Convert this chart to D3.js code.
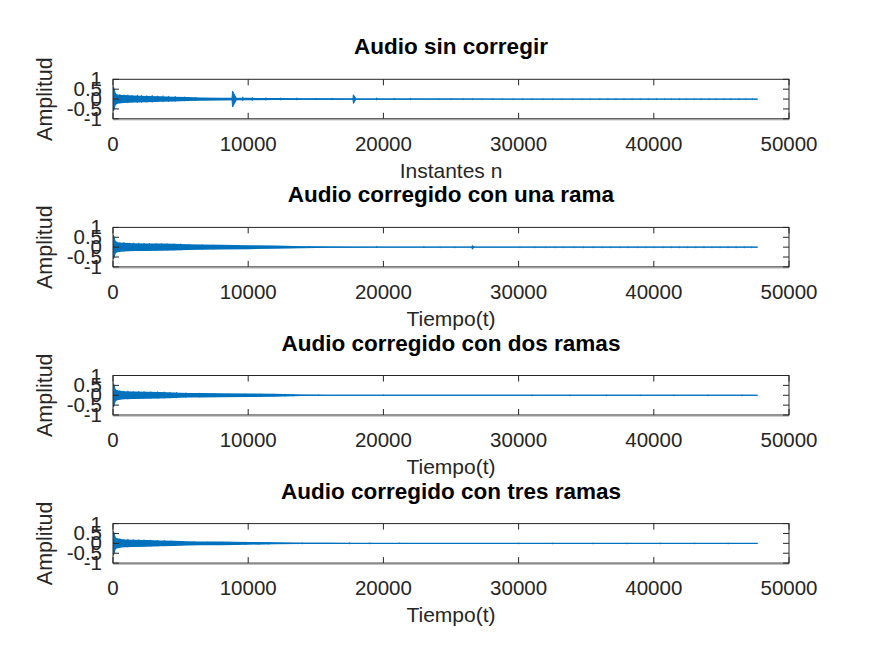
<!DOCTYPE html>
<html><head><meta charset="utf-8">
<script src="https://cdn.jsdelivr.net/npm/d3@7"></script>
<style>body{margin:0;background:#fff}svg{display:block}text{font-family:"Liberation Sans",Arial,Helvetica,sans-serif}</style>
</head><body>
<script>
// ---- data ----
const titles = ["Audio sin corregir","Audio corregido con una rama","Audio corregido con dos ramas","Audio corregido con tres ramas"];
const xLabels = ["Instantes n","Tiempo(t)","Tiempo(t)","Tiempo(t)"];
const yLabel = "Amplitud";
const xTicks = [0,10000,20000,30000,40000,50000];
const yTicks = [-1,-0.5,0,0.5,1];
const nSamples = 47680;

// envelope sample positions and half-amplitudes per subplot
const envX    = [0,150,400,800,1500,2500,3500,4500,5500,6500,8000,10000,12000,14000,16000,18000,20000,25000,30000,40000,47680];
const envSin  = [0.2,0.3,0.22,0.2,0.18,0.16,0.14,0.12,0.1,0.08,0.07,0.06,0.05,0.04,0.035,0.03,0.03,0.025,0.02,0.02,0.02];
const envUna  = [0.2,0.32,0.24,0.22,0.2,0.19,0.18,0.17,0.15,0.13,0.12,0.1,0.08,0.05,0.03,0.025,0.02,0.02,0.02,0.02,0.02];
const envDos  = [0.2,0.3,0.24,0.2,0.19,0.18,0.16,0.14,0.12,0.11,0.1,0.09,0.07,0.04,0.025,0.02,0.02,0.02,0.02,0.02,0.02];
const envTres = [0.2,0.3,0.24,0.2,0.18,0.17,0.15,0.13,0.11,0.1,0.09,0.07,0.05,0.03,0.025,0.02,0.02,0.02,0.02,0.02,0.02];

// spikes: [start sample, end sample, top, bottom]
const spikesSin  = [[0,250,0.62,-0.6],[8800,9100,0.4,-0.4],[17750,17950,0.22,-0.22]];
const spikesUna  = [[0,250,0.6,-0.6],[26550,26700,0.08,-0.1]];
const spikesDos  = [[0,250,0.6,-0.6]];
const spikesTres = [[0,250,0.6,-0.6]];

// bursts sticking out of the band: [sample, amplitude]
const burstsSin  = [[500,0.24],[800,0.22],[1100,0.23],[1400,0.2],[1800,0.22],[2100,0.2],[2500,0.19],[2900,0.2],[3300,0.17],[3700,0.18],[4100,0.16],[4600,0.15],[5300,0.12],[6100,0.1],[9600,0.12],[10300,0.1],[11300,0.08],[12400,0.07],[13600,0.07],[15000,0.06],[16200,0.06],[19500,0.07],[20800,0.06],[22000,0.06]];
const burstsUna  = [[500,0.24],[800,0.25],[1200,0.22],[1500,0.23],[1900,0.22],[2300,0.21],[2700,0.2],[3200,0.2],[3600,0.2],[4000,0.19],[4500,0.18],[5000,0.18],[5600,0.15],[6600,0.14],[7400,0.12],[8500,0.1],[10000,0.08],[11500,0.07],[13000,0.06],[14500,0.05],[19500,0.05],[23000,0.05]];
const burstsDos  = [[500,0.24],[800,0.22],[1100,0.23],[1500,0.2],[1900,0.21],[2300,0.2],[2800,0.19],[3300,0.19],[3800,0.18],[4200,0.17],[4700,0.16],[5400,0.14],[6400,0.12],[7500,0.1],[8500,0.09],[9800,0.08],[10900,0.08],[11900,0.07],[12700,0.07],[13300,0.06],[15200,0.04],[20000,0.04]];
const burstsTres = [[500,0.24],[800,0.22],[1100,0.23],[1500,0.2],[1900,0.2],[2300,0.19],[2800,0.18],[3300,0.17],[3800,0.16],[4300,0.14],[5000,0.12],[6000,0.1],[7000,0.09],[8500,0.08],[9800,0.08],[10800,0.07],[11500,0.06],[14000,0.05],[17500,0.05],[19000,0.05],[21200,0.04]];

// faint tail bursts (light)
const tailSin  = [24100,25000,25900,26600,27300,28100,28800,29600,30300,31000,31800,32500,33200,34000,34700,35300,36000,36600,37200,37800,38400,39000,39600,40200,40800,41300,41900,42400,43000,43500,44100,44600,45200,45700,46300,46800,47300];
const tailUna  = [24200,25300,30100,31200,32000,32700,33300,34100,34800,35500,36200,36800,37500,38100,38800,39400,40000,40700,41300,41900,42500,43100,43700,44300,44900,45500,46100,46700,47200];
const tailDos  = [31000,33800,36500,39000,41500,44000,46500];
const tailTres = [30000,32500,35500,38000,40500,43000,45500];

const envs = [envSin,envUna,envDos,envTres];
const spikes = [spikesSin,spikesUna,spikesDos,spikesTres];
const bursts = [burstsSin,burstsUna,burstsDos,burstsTres];
const tails = [tailSin,tailUna,tailDos,tailTres];

// ---- layout ----
const W = 872, H = 654;
const L = 113, R = 789, top0 = 79.3, step = 148.1, ph = 39.5;
const blue = "#0072BD", axc = "#262626";

const svg = d3.select("body").append("svg").attr("width",W).attr("height",H);
const x = d3.scaleLinear().domain([0,50000]).range([L,R]);

for (let k=0;k<4;k++){
  const t = top0 + step*k;
  const y = d3.scaleLinear().domain([-1,1]).range([t+ph,t]);
  const g = svg.append("g");
  g.append("rect").attr("x",L).attr("y",t).attr("width",R-L).attr("height",ph).attr("fill","#fff");

  const clip = "clip"+k;
  g.append("clipPath").attr("id",clip).append("rect").attr("x",L).attr("y",t).attr("width",R-L).attr("height",ph);
  const pg = g.append("g").attr("clip-path",`url(#${clip})`);

  const env = envs[k].map((a,i)=>({s:envX[i],a}));
  pg.append("path").datum(env)
    .attr("d",d3.area().x(d=>x(d.s)).y0(d=>y(-d.a)).y1(d=>y(d.a)))
    .attr("fill",blue);
  pg.append("path").datum([{s:0},{s:nSamples}])
    .attr("d",d3.line().x(d=>x(d.s)).y(()=>y(0)))
    .attr("stroke",blue).attr("stroke-width",1.2).attr("fill","none");

  pg.selectAll("line.b").data(bursts[k]).join("line")
    .attr("x1",d=>x(d[0])).attr("x2",d=>x(d[0]))
    .attr("y1",d=>y(d[1])).attr("y2",d=>y(-d[1]*0.9))
    .attr("stroke",blue).attr("stroke-width",1);

  pg.selectAll("line.t").data(tails[k]).join("line")
    .attr("x1",d=>x(d)).attr("x2",d=>x(d))
    .attr("y1",()=>y(0.06)).attr("y2",()=>y(-0.06))
    .attr("stroke",blue).attr("stroke-opacity",0.45).attr("stroke-width",1);

  spikes[k].forEach(sp=>{
    const [s0,s1,hi,lo] = sp;
    const pts = [{s:s0,a:0},{s:s0+ (s1-s0)*0.15,a:1},{s:s1,a:0.15}];
    pg.append("path").datum(pts)
      .attr("d",d3.area().x(d=>x(d.s)).y0(d=>y(lo*d.a)).y1(d=>y(hi*d.a)))
      .attr("fill",blue).attr("stroke",blue).attr("stroke-width",1);
  });

  // box
  g.append("rect").attr("x",L).attr("y",t).attr("width",R-L).attr("height",ph)
    .attr("fill","none").attr("stroke",axc).attr("stroke-width",1);
  g.append("line").attr("x1",L).attr("x2",R).attr("y1",t+ph+1).attr("y2",t+ph+1).attr("stroke","#999").attr("stroke-width",1);

  // x ticks (inward top & bottom)
  const xt = g.selectAll("g.xt").data(xTicks).join("g");
  xt.append("line").attr("x1",d=>x(d)).attr("x2",d=>x(d)).attr("y1",t+ph).attr("y2",t+ph-6).attr("stroke",axc);
  xt.append("line").attr("x1",d=>x(d)).attr("x2",d=>x(d)).attr("y1",t).attr("y2",t+6).attr("stroke",axc);
  xt.append("text").attr("x",d=>x(d)).attr("y",t+ph+32).attr("text-anchor","middle")
    .attr("font-size",20.5).attr("fill",axc).text(d=>d);

  // y ticks (inward left & right)
  const yt = g.selectAll("g.yt").data(yTicks).join("g");
  yt.append("line").attr("x1",L).attr("x2",L+6).attr("y1",d=>y(d)).attr("y2",d=>y(d)).attr("stroke",axc);
  yt.append("line").attr("x1",R).attr("x2",R-6).attr("y1",d=>y(d)).attr("y2",d=>y(d)).attr("stroke",axc);
  yt.append("text").attr("x",L-11).attr("y",d=>y(d)+7).attr("text-anchor","end")
    .attr("font-size",20.5).attr("fill",axc).text(d=>d);

  // labels
  g.append("text").attr("x",(L+R)/2).attr("y",t-25).attr("text-anchor","middle")
    .attr("font-size",22.5).attr("font-weight","bold").attr("fill","#000").text(titles[k]);
  g.append("text").attr("x",(L+R)/2).attr("y",t+ph+59).attr("text-anchor","middle")
    .attr("font-size",21).attr("fill",axc).text(xLabels[k]);
  g.append("text").attr("transform",`translate(52,${t+ph/2}) rotate(-90)`).attr("text-anchor","middle")
    .attr("font-size",21.5).attr("fill",axc).text(yLabel);
}
</script>
</body></html>
